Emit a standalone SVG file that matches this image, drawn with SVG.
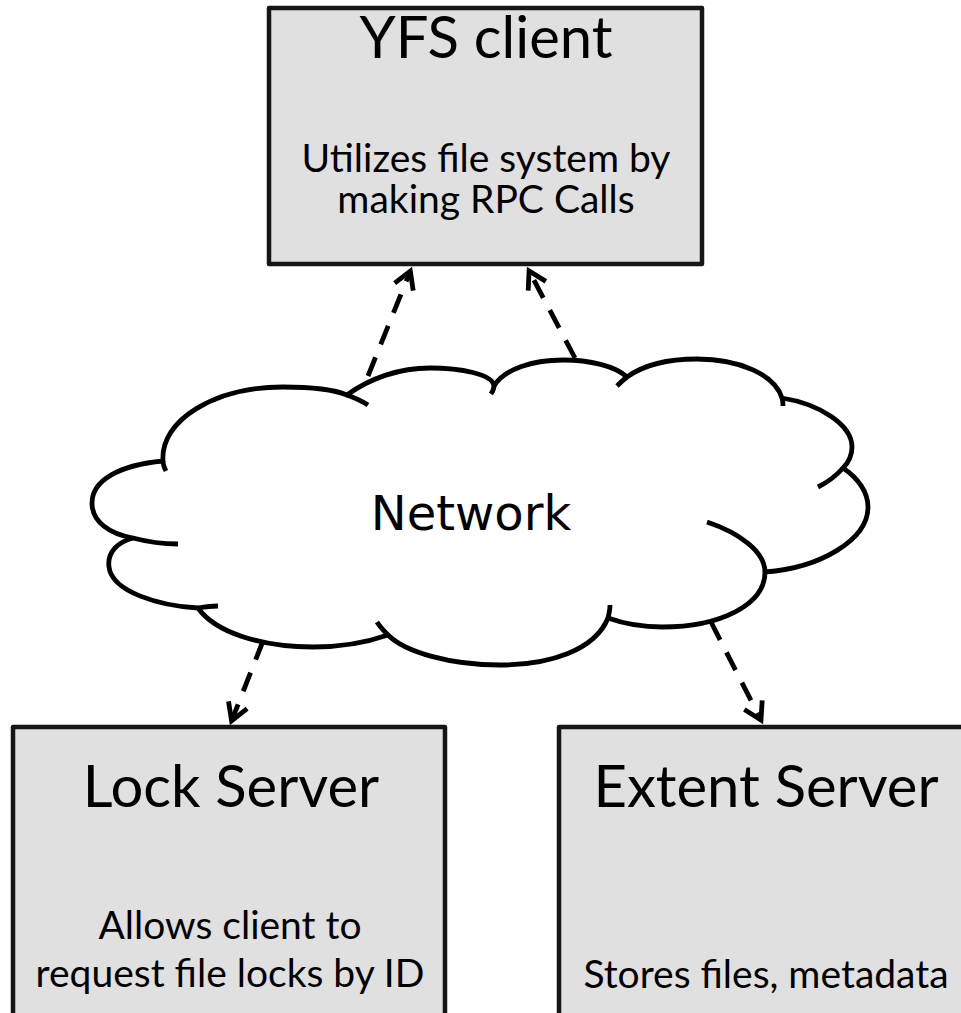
<svg xmlns="http://www.w3.org/2000/svg" width="961" height="1013" viewBox="0 0 961 1013">
  <style>
    .box { fill: #e0e0e0; stroke: #161616; stroke-width: 4.5; stroke-linejoin: round; }
    .title { font-family: Lato, "Open Sans", sans-serif; font-size: 58px; fill: #000; text-anchor: middle; }
    .body { font-family: Lato, "Open Sans", sans-serif; font-size: 39px; fill: #000; text-anchor: middle; }
    .cloud { fill: #fff; stroke: #000; stroke-width: 4.8; stroke-linejoin: round; }
    .crease { fill: none; stroke: #000; stroke-width: 4.8; }
    .cloud-label { font-family: "DejaVu Sans", sans-serif; font-size: 48px; fill: #000; text-anchor: middle; }
    .link { fill: none; stroke: #000; stroke-width: 4.8; stroke-dasharray: 20 14; marker-end: url(#open-arrow); }
  </style>
  <defs>
    <marker id="open-arrow" markerUnits="userSpaceOnUse" orient="auto" refX="0" refY="0"
            viewBox="-22 -14 30 28" markerWidth="30" markerHeight="28">
      <path d="M-17,-10 L0,0 L-17,10" fill="none" stroke="#000" stroke-width="4.8" stroke-linejoin="miter"/>
    </marker>
  </defs>

  <rect width="961" height="1013" fill="#fff"/>

  <!-- dashed connectors between the network and the three parties -->
  <g id="connectors">
    <path class="link" d="M368,376 L410.3,271.2"/>
    <path class="link" d="M575,358 L529.1,271"/>
    <path class="link" d="M263,641 L231.6,720.8"/>
    <path class="link" d="M711,622 L761,720"/>
  </g>

  <g id="yfs-client">
    <rect class="box" x="269" y="8" width="433" height="256"/>
    <text class="title" x="486" y="58">YFS client</text>
    <text class="body" x="486" y="172">Utilizes file system by</text>
    <text class="body" x="486" y="213">making RPC Calls</text>
  </g>

  <g id="network">
    <path class="cloud" d="M198,608
      C160,606 112,592 109,567
      C107,552 118,542 133,538
      C110,534 92,522 92,503
      C92,480 120,465 163,461
      C160,420 215,387 283,387
      C312,387 335,390 347,395
      C370,378 400,368 430,368
      C460,368 493,374 494,386
      C505,368 535,360 563,360
      C590,360 615,366 627,377
      C645,364 670,359 697,359
      C740,359 775,375 782,398
      C820,404 852,425 852,447
      C852,456 848,463 843,468
      C858,478 868,492 868,507
      C868,540 820,568 765,572
      C765,605 720,627 662,627
      C640,627 622,623 608,618
      C595,650 550,665 500,665
      C450,665 405,652 388,635
      C365,643 340,647 313,647
      C260,647 215,632 198,608 Z"/>
    <path class="crease" d="M133,538 C148,542 162,544 178,544"/>
    <path class="crease" d="M163,461 C163,464 164,467 166,471"/>
    <path class="crease" d="M347,395 C355,398 362,401 368,405"/>
    <path class="crease" d="M494,386 C494,389 493,391 491,394"/>
    <path class="crease" d="M617,386 C620,383 623,380 627,377"/>
    <path class="crease" d="M782,398 C783,401 783,403 783,406"/>
    <path class="crease" d="M843,468 C836,476 828,482 818,487"/>
    <path class="crease" d="M707,522 C740,533 765,552 765,572"/>
    <path class="crease" d="M608,618 C609,614 610,609 610,605"/>
    <path class="crease" d="M388,635 C384,631 380,627 377,622"/>
    <path class="crease" d="M198,608 C204,607 211,606 218,606"/>
    <text class="cloud-label" x="471" y="530">Network</text>
  </g>

  <g id="lock-server">
    <rect class="box" x="13" y="727" width="432" height="300"/>
    <text class="title" x="231" y="807">Lock Server</text>
    <text class="body" x="230" y="939">Allows client to</text>
    <text class="body" x="230" y="987">request file locks by ID</text>
  </g>

  <g id="extent-server">
    <rect class="box" x="559" y="727" width="420" height="300"/>
    <text class="title" x="766" y="807">Extent Server</text>
    <text class="body" x="766" y="988">Stores files, metadata</text>
  </g>
</svg>
